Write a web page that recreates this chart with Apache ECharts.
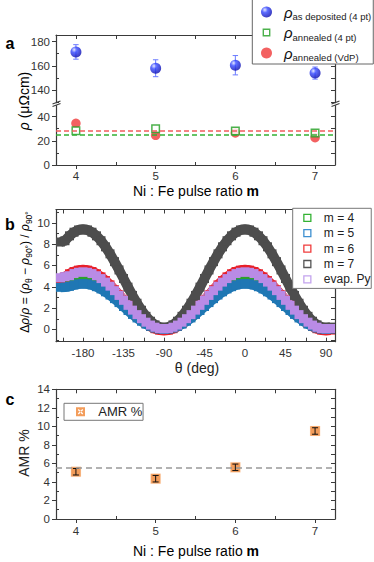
<!DOCTYPE html>
<html><head><meta charset="utf-8">
<script src="https://cdn.jsdelivr.net/npm/echarts@6/dist/echarts.min.js"></script>
<style>html,body{margin:0;padding:0;background:#fff}#c{width:374px;height:562px}</style>
</head><body><div id="c"></div>
<script>
// ---------- Panel a data ----------
const mRatio = [4, 5, 6, 7];
const rhoAsDep = [171.5, 158, 160.5, 154];
const rhoAsDepErr = [6, 7, 8, 5];
const rhoAnn4pt = [28.3, 30, 28, 26.5];
const rhoAnnVdP = [34.5, 24.5, 26.5, 22.6];
const meanAnn4pt = 25;
const meanAnnVdP = 28;
const aTicksUpper = [140, 160, 180];
const aTicksLower = [0, 20, 40];
const mTicks = [4, 5, 6, 7];

// ---------- Panel b data ----------
const theta = [-205,-200,-195,-190,-185,-180,-175,-170,-165,-160,-155,-150,-145,-140,-135,-130,-125,-120,-115,-110,-105,-100,-95,-90,-85,-80,-75,-70,-65,-60,-55,-50,-45,-40,-35,-30,-25,-20,-15,-10,-5,0,5,10,15,20,25,30,35,40,45,50,55,60,65,70,75,80,85,90,95];
const amrM4 = [4.15,4.46,4.71,4.90,5.01,5.05,5.01,4.90,4.71,4.46,4.15,3.79,3.39,2.96,2.53,2.09,1.66,1.26,0.90,0.59,0.34,0.15,0.04,0.00,0.04,0.15,0.34,0.59,0.90,1.26,1.66,2.09,2.53,2.96,3.39,3.79,4.15,4.46,4.71,4.90,5.01,5.05,5.01,4.90,4.71,4.46,4.15,3.79,3.39,2.96,2.53,2.09,1.66,1.26,0.90,0.59,0.34,0.15,0.04,0.00,0.04];
const amrM5 = [3.95,3.98,4.05,4.17,4.27,4.30,4.27,4.17,4.01,3.80,3.53,3.23,2.89,2.52,2.15,1.78,1.41,1.08,0.77,0.50,0.29,0.13,0.03,0.00,0.03,0.13,0.29,0.50,0.77,1.08,1.41,1.78,2.15,2.52,2.89,3.23,3.53,3.80,4.01,4.17,4.27,4.30,4.27,4.17,4.01,3.80,3.53,3.23,2.89,2.52,2.15,1.78,1.41,1.08,0.77,0.50,0.29,0.13,0.03,0.00,0.03];
const amrM6 = [4.45,4.93,5.22,5.43,5.56,5.60,5.56,5.43,5.22,4.93,4.58,4.18,3.72,3.24,2.75,2.26,1.78,1.33,0.92,0.57,0.28,0.07,-0.06,-0.10,-0.06,0.07,0.28,0.57,0.92,1.33,1.78,2.26,2.75,3.24,3.72,4.18,4.58,4.93,5.22,5.43,5.56,5.60,5.56,5.43,5.22,4.93,4.58,4.18,3.72,3.24,2.75,2.26,1.78,1.33,0.92,0.57,0.28,0.07,-0.06,-0.10,-0.06];
const amrM7 = [8.20,8.32,8.78,9.12,9.33,9.40,9.33,9.12,8.78,8.32,7.75,7.09,6.36,5.58,4.78,3.97,3.19,2.46,1.80,1.23,0.77,0.43,0.22,0.15,0.22,0.43,0.77,1.23,1.80,2.46,3.19,3.97,4.78,5.58,6.36,7.09,7.75,8.32,8.78,9.12,9.33,9.40,9.33,9.12,8.78,8.32,7.75,7.09,6.36,5.58,4.78,3.97,3.19,2.46,1.80,1.23,0.77,0.43,0.22,0.15,0.22];
const amrPy = [4.85,4.95,5.04,5.24,5.36,5.40,5.36,5.24,5.04,4.77,4.44,4.06,3.64,3.19,2.73,2.26,1.81,1.39,1.01,0.68,0.41,0.21,0.09,0.05,0.09,0.21,0.41,0.68,1.01,1.39,1.81,2.26,2.73,3.19,3.64,4.06,4.44,4.77,5.04,5.24,5.36,5.40,5.36,5.24,5.04,4.77,4.44,4.06,3.64,3.19,2.73,2.26,1.81,1.39,1.01,0.68,0.41,0.21,0.09,0.05,0.09];
const thetaLabels = [-180, -135, -90, -45, 0, 45, 90];
const thetaTicks = [-202.5,-180,-157.5,-135,-112.5,-90,-67.5,-45,-22.5,0,22.5,45,67.5,90];
const bYLabels = [0, 2, 4, 6, 8, 10];
const bYMinor = [-1, 1, 3, 5, 7, 9, 11];
const bYAll = [-1,0,1,2,3,4,5,6,7,8,9,10,11];

// ---------- Panel c data ----------
const amrPct = [5.1, 4.35, 5.58, 9.5];
const amrPctErr = [0.35, 0.35, 0.35, 0.35];
const amrMean = 5.55;
const cYLabels = [0, 2, 4, 6, 8, 10, 12, 14];
const cYMinor = [1, 3, 5, 7, 9, 11, 13];
const cYAll = [1,2,3,4,5,6,7,8,9,10,11,12,13];
const mHalf = [4, 4.5, 5, 5.5, 6, 6.5, 7];
const mMinor = [4.5, 5.5, 6.5];

// ---------- styling ----------
const FONT = 'Liberation Sans';
const AX = '#3a3a3a';
const ORANGE = '#f08532';
// orange square with a white X cut out (X strips wound opposite to the square)
const XSQ = 'path://M0,0L10,0L10,10L0,10Z M2,3L7,8L8,7L3,2Z M8,3L7,2L2,7L3,8Z';
const bColors = {'m = 4':'#2ca02c','m = 5':'#1f77b4','m = 6':'#e8202a','m = 7':'#4d4d4d','evap. Py':'#b98be6'};
const bLegendColors = ['#33b233','#3d8fd0','#f03c3c','#555555','#c4a4ee'];
const bNames = ['m = 4','m = 5','m = 6','m = 7','evap. Py'];

function axLine(show){ return {show:show, onZero:false, lineStyle:{color:AX, width:1.2}}; }
function ticks(vals, inside, len){ return {show:true, inside:inside, length:len, customValues:vals, lineStyle:{color:AX, width:1}}; }
function labels(vals, margin){ return {show:true, customValues:vals, margin:margin, fontFamily:FONT, fontSize:11.5, color:'#333'}; }
function xAx(grid, min, max, pos, line, tk, lb){
  return {type:'value', gridIndex:grid, min:min, max:max, position:pos, axisLine:axLine(line), axisTick:tk, axisLabel:lb || {show:false}, splitLine:{show:false}};
}
function yAx(grid, min, max, pos, line, tk, lb){
  return {type:'value', gridIndex:grid, min:min, max:max, position:pos, axisLine:axLine(line), axisTick:tk, axisLabel:lb || {show:false}, splitLine:{show:false}};
}
function errRender(color, cap){
  return function(params, api){
    const x = api.value(0), lo = api.value(1), hi = api.value(2);
    const a = api.coord([x, hi]), b = api.coord([x, lo]);
    const st = {stroke: color, lineWidth: 1};
    return {type:'group', children:[
      {type:'line', shape:{x1:a[0], y1:a[1], x2:b[0], y2:b[1]}, style:st},
      {type:'line', shape:{x1:a[0]-cap, y1:a[1], x2:a[0]+cap, y2:a[1]}, style:st},
      {type:'line', shape:{x1:b[0]-cap, y1:b[1], x2:b[0]+cap, y2:b[1]}, style:st}
    ]};
  };
}
function zip(xs, ys){ return xs.map((x,i)=>[x, ys[i]]); }
function errData(xs, ys, es){ return xs.map((x,i)=>[x, ys[i]-es[i], ys[i]+es[i]]); }

const sphere = {type:'radial', x:0.35, y:0.3, r:0.75, colorStops:[{offset:0,color:'#dfe3ff'},{offset:0.35,color:'#3346ff'},{offset:1,color:'#0808a8'}]};

const xAxes = [
  xAx(0, 3.75, 7.25, 'top', true, ticks(mHalf, true, 4)),
  xAx(1, 3.75, 7.25, 'bottom', true, ticks(mTicks, false, 4), labels(mTicks, 5)),
  xAx(1, 3.75, 7.25, 'bottom', false, ticks(mMinor, true, 3)),
  xAx(2, -210, 100, 'bottom', true, ticks(thetaTicks, true, 4), labels(thetaLabels, 5)),
  xAx(2, -210, 100, 'top', true, ticks(thetaTicks, true, 4)),
  xAx(3, 3.75, 7.25, 'bottom', true, ticks(mTicks, false, 4), labels(mTicks, 6)),
  xAx(3, 3.75, 7.25, 'bottom', false, ticks(mMinor, true, 3)),
  xAx(3, 3.75, 7.25, 'top', true, ticks(mHalf, true, 4))
];
const yAxes = [
  yAx(0, 128, 185.5, 'left', true, ticks(aTicksUpper, false, 4), labels(aTicksUpper, 6)),
  yAx(0, 128, 185.5, 'left', false, ticks([130,150,170], true, 3)),
  yAx(0, 128, 185.5, 'right', true, ticks([130,140,150,160,170,180], true, 4)),
  yAx(1, 0, 50, 'left', true, ticks(aTicksLower, false, 4), labels(aTicksLower, 6)),
  yAx(1, 0, 50, 'left', false, ticks([10,30], true, 3)),
  yAx(1, 0, 50, 'right', true, ticks([10,20,30,40], true, 4)),
  yAx(2, -1.15, 11.25, 'left', true, ticks(bYLabels, false, 4), labels(bYLabels, 6)),
  yAx(2, -1.15, 11.25, 'left', false, ticks(bYMinor, true, 3)),
  yAx(2, -1.15, 11.25, 'right', true, ticks(bYAll, true, 4)),
  yAx(3, 0, 14, 'left', true, ticks(cYLabels, false, 4), labels(cYLabels, 6)),
  yAx(3, 0, 14, 'left', false, ticks(cYMinor, true, 3)),
  yAx(3, 0, 14, 'right', true, ticks(cYAll, true, 4))
];

function bandSeries(name, vals){
  return {name:name, type:'line', xAxisIndex:3, yAxisIndex:6, data:zip(theta, vals),
    symbol:'rect', symbolSize:9, showSymbol:true,
    lineStyle:{color:bColors[name], width:10, cap:'butt', join:'round'},
    itemStyle:{color:bColors[name], borderWidth:0},
    emphasis:{disabled:true}, silent:true};
}

const series = [
  {type:'custom', name:'errAsDep', xAxisIndex:0, yAxisIndex:0, data:errData(mRatio, rhoAsDep, rhoAsDepErr),
    encode:{x:0, y:[1,2]}, renderItem:errRender('#6b7bff', 2.7), z:1, silent:true},
  {name:'as deposited (4 pt)', type:'scatter', xAxisIndex:0, yAxisIndex:0, data:zip(mRatio, rhoAsDep),
    symbol:'circle', symbolSize:11, itemStyle:{color:sphere}, z:3},
  {name:'annealed (VdP)', type:'scatter', xAxisIndex:1, yAxisIndex:3, data:zip(mRatio, rhoAnnVdP),
    symbol:'circle', symbolSize:9.5, itemStyle:{color:'#f03a3a'}, z:2,
    markLine:{silent:true, symbol:['none','none'], label:{show:false}, animation:false,
      lineStyle:{color:'#f25c5c', type:[5,3], width:1.5}, data:[{yAxis:meanAnnVdP}]}},
  {name:'annealed (4 pt)', type:'scatter', xAxisIndex:1, yAxisIndex:3, data:zip(mRatio, rhoAnn4pt),
    symbol:'rect', symbolSize:7.5, itemStyle:{color:'#fff', borderColor:'#1f9e1f', borderWidth:1.5}, z:3,
    markLine:{silent:true, symbol:['none','none'], label:{show:false}, animation:false,
      lineStyle:{color:'#33b033', type:[5,3], width:1.5}, data:[{yAxis:meanAnn4pt}]}},
  bandSeries('m = 4', amrM4),
  bandSeries('m = 6', amrM6),
  bandSeries('m = 5', amrM5),
  bandSeries('m = 7', amrM7),
  bandSeries('evap. Py', amrPy),
  {name:'AMR %', type:'scatter', xAxisIndex:5, yAxisIndex:9, data:zip(mRatio, amrPct),
    symbol:'rect', symbolSize:10, itemStyle:{color:ORANGE, borderColor:'rgba(255,235,215,0.7)', borderWidth:0.6}, z:2,
    markLine:{silent:true, symbol:['none','none'], label:{show:false}, animation:false,
      lineStyle:{color:'#999', type:[6,4], width:1.5}, data:[{yAxis:amrMean}]}},
  {type:'custom', name:'errAMR', xAxisIndex:5, yAxisIndex:9, data:errData(mRatio, amrPct, amrPctErr),
    encode:{x:0, y:[1,2]}, renderItem:errRender('#111', 3), z:4, silent:true}
];

const legends = [
  {left:252.3, top:-1, orient:'vertical', padding:[5.5,2,1.5,8], itemGap:3.5, itemWidth:11, itemHeight:11,
    borderColor:'#666', borderWidth:1, backgroundColor:'#fff', selectedMode:false,
    data:[
      {name:'as deposited (4 pt)', icon:'circle'},
      {name:'annealed (4 pt)', icon:'path://M0,0M11,11M2.3,2.3L8.7,2.3L8.7,8.7L2.3,8.7Z', itemStyle:{color:'#fff', borderColor:'#1f9e1f', borderWidth:1.4}},
      {name:'annealed (VdP)', icon:'circle'}
    ],
    formatter: n => '{r|ρ}{s|' + n + '}',
    textStyle:{rich:{
      r:{fontFamily:FONT, fontStyle:'italic', fontSize:15, lineHeight:19, padding:[0,0,0,7], color:'#111'},
      s:{fontFamily:FONT, fontSize:9.5, lineHeight:9, verticalAlign:'bottom', color:'#222'}
    }}},
  {left:292.7, top:208.3, orient:'vertical', padding:[3.5,0.7,3,10.5], itemGap:3.4, itemWidth:7, itemHeight:7,
    borderColor:'#777', borderWidth:1, backgroundColor:'#fff', selectedMode:false,
    data: bNames.map((n,i)=>({name:n, icon:'rect', itemStyle:{color:'#fff', borderColor:bLegendColors[i], borderWidth:1.3}})),
    formatter: n => '{t|' + n + '}',
    textStyle:{rich:{t:{fontFamily:FONT, fontSize:12, padding:[0,0,0,8], color:'#222'}}}},
  {left:64, top:403.3, orient:'vertical', padding:[2,0.7,2,12], itemGap:0, itemWidth:9, itemHeight:9,
    borderColor:'#777', borderWidth:1, backgroundColor:'#fff', selectedMode:false,
    data:[{name:'AMR %', icon:XSQ, itemStyle:{color:ORANGE, borderWidth:0}}],
    formatter: n => '{t|' + n + '}',
    textStyle:{rich:{t:{fontFamily:FONT, fontSize:13, padding:[0,0,0,8.3], color:'#222'}}}}
];

function breakMark(x){
  const st = {stroke:AX, lineWidth:1.2};
  return [
    {type:'rect', shape:{x:x-2.5, y:103.2, width:5, height:2}, style:{fill:'#fff'}, z:100},
    {type:'line', shape:{x1:x-3.5, y1:104.0, x2:x+4.5, y2:101.0}, style:st, z:101},
    {type:'line', shape:{x1:x-3.5, y1:106.5, x2:x+4.5, y2:103.5}, style:st, z:101}
  ];
}
const titleRich = {
  n:{fontFamily:FONT, fontSize:14, color:'#222'},
  b:{fontFamily:FONT, fontSize:14, fontWeight:'bold', color:'#222'}
};
const graphics = [
  {type:'text', x:10, y:43.6, style:{text:'a', font:'bold 16px "Liberation Sans"', fill:'#000', align:'center', verticalAlign:'middle'}, z:100},
  {type:'text', x:10, y:224, style:{text:'b', font:'bold 16px "Liberation Sans"', fill:'#000', align:'center', verticalAlign:'middle'}, z:100},
  {type:'text', x:10, y:399.6, style:{text:'c', font:'bold 16px "Liberation Sans"', fill:'#000', align:'center', verticalAlign:'middle'}, z:100},
  {type:'text', x:196, y:190.5, style:{text:'{n|Ni : Fe pulse ratio }{b|m}', rich:titleRich, align:'center', verticalAlign:'middle'}, z:100},
  {type:'text', x:197, y:368, style:{text:'θ (deg)', font:'14px "Liberation Sans"', fill:'#222', align:'center', verticalAlign:'middle'}, z:100},
  {type:'text', x:196, y:551, style:{text:'{n|Ni : Fe pulse ratio }{b|m}', rich:titleRich, align:'center', verticalAlign:'middle'}, z:100},
  {type:'text', x:24, y:101, rotation:Math.PI/2, style:{text:'{i|ρ}{n| (μΩcm)}', align:'center', verticalAlign:'middle',
    rich:{i:{fontFamily:FONT, fontSize:14, fontStyle:'italic', color:'#222'}, n:{fontFamily:FONT, fontSize:14, color:'#222'}}}, z:100},
  {type:'text', x:25, y:272, rotation:Math.PI/2, style:{
    text:'{n|Δ}{i|ρ}{n|/}{i|ρ}{n| = (}{i|ρ}{s|θ}{n| − }{i|ρ}{s|90°}{n|) / }{i|ρ}{s|90°}',
    align:'center', verticalAlign:'middle',
    rich:{
      n:{fontFamily:FONT, fontSize:12, lineHeight:16, color:'#222'},
      i:{fontFamily:FONT, fontSize:12, lineHeight:16, fontStyle:'italic', color:'#222'},
      s:{fontFamily:FONT, fontSize:8.5, lineHeight:8, verticalAlign:'bottom', color:'#222'}
    }}, z:100},
  {type:'text', x:24, y:453, rotation:Math.PI/2, style:{text:'AMR %', font:'14px "Liberation Sans"', fill:'#222', align:'center', verticalAlign:'middle'}, z:100}
].concat(breakMark(56), breakMark(335));

const option = {
  animation:false,
  backgroundColor:'#fff',
  grid:[
    {left:56, top:35, width:279, height:69.5, outerBoundsMode:'none'},
    {left:56, top:104.5, width:279, height:60.5, outerBoundsMode:'none'},
    {left:56, top:209.5, width:279, height:132.2, outerBoundsMode:'none'},
    {left:56, top:389.3, width:279, height:129.7, outerBoundsMode:'none'}
  ],
  xAxis:xAxes,
  yAxis:yAxes,
  legend:legends,
  series:series,
  graphic:graphics
};
const chart = echarts.init(document.getElementById('c'), null, {renderer:'svg', width:374, height:562});
chart.setOption(option);
</script>
</body></html>
